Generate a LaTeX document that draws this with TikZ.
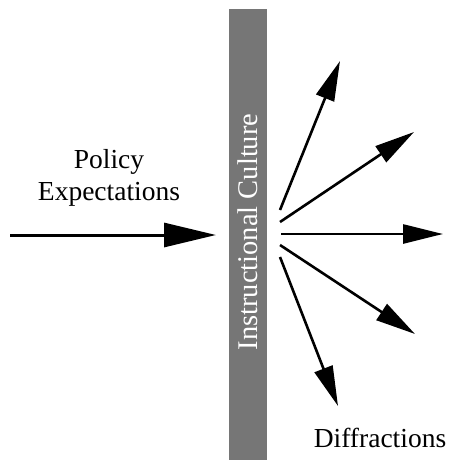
\documentclass[tikz,border=0pt]{standalone}
\usepackage{fontspec}
\setmainfont{Liberation Serif}
\usetikzlibrary{arrows.meta}
\definecolor{bargray}{HTML}{767676}
\begin{document}
\begin{tikzpicture}[x=1pt,y=-1pt,
  lbl/.style={font=\fontsize{27.5}{33}\selectfont, inner sep=0pt, anchor=base},
  bigarrow/.style={line width=3pt, -{Triangle[length=52pt,width=24pt]}},
  ray/.style={line width=2.6pt, -{Triangle[length=40pt,width=19pt]}}]
\useasboundingbox (0,0) rectangle (449,460);
\fill[bargray] (229,9) rectangle (267,460);
\node[lbl, rotate=90, text=white, font=\fontsize{28.5}{34}\selectfont] (culture) at (257,232) {Instructional Culture};
\node[lbl] (policy) at (109,168) {Policy};
\node[lbl] (expect) at (109,200) {Expectations};
\node[lbl] (diff) at (380,447) {Diffractions};
\coordinate (in0) at (10,235);
\coordinate (in1) at (216,235);
\draw[bigarrow] (in0) -- (in1);
\coordinate (s1) at (280,210); \coordinate (t1) at (340,61);
\coordinate (s2) at (280,222); \coordinate (t2) at (414,132);
\coordinate (s3) at (281,234); \coordinate (t3) at (443,234);
\coordinate (s4) at (280,245); \coordinate (t4) at (415,334);
\coordinate (s5) at (280,257); \coordinate (t5) at (338,406);
\foreach \i in {1,...,5} {\draw[ray] (s\i) -- (t\i);}
\end{tikzpicture}
\end{document}
